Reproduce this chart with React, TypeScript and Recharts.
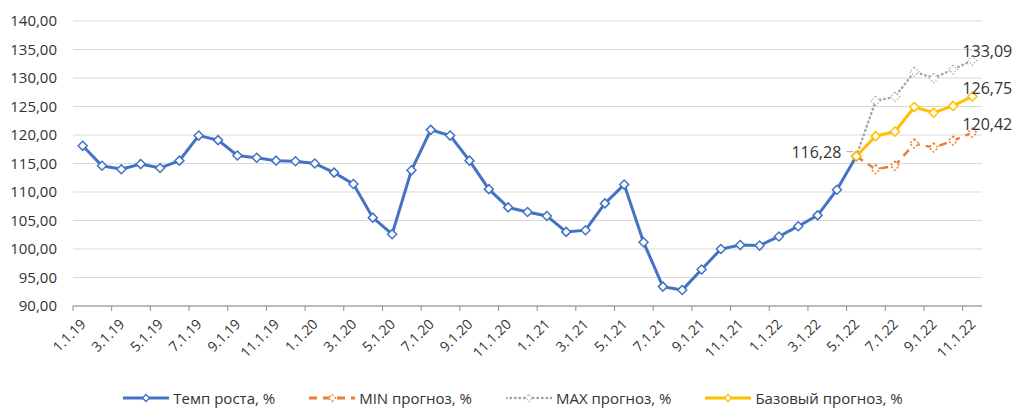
import React from 'react';
import { LineChart, Line, XAxis, YAxis, CartesianGrid, Legend, LabelList } from 'recharts';

// месяцы (подписи категорий)
const dates = [
  '1.1.19', '2.1.19', '3.1.19', '4.1.19', '5.1.19', '6.1.19', '7.1.19', '8.1.19', '9.1.19', '10.1.19', '11.1.19', '12.1.19',
  '1.1.20', '2.1.20', '3.1.20', '4.1.20', '5.1.20', '6.1.20', '7.1.20', '8.1.20', '9.1.20', '10.1.20', '11.1.20', '12.1.20',
  '1.1.21', '2.1.21', '3.1.21', '4.1.21', '5.1.21', '6.1.21', '7.1.21', '8.1.21', '9.1.21', '10.1.21', '11.1.21', '12.1.21',
  '1.1.22', '2.1.22', '3.1.22', '4.1.22', '5.1.22', '6.1.22', '7.1.22', '8.1.22', '9.1.22', '10.1.22', '11.1.22',
];

// Темп роста, % (факт, 1.1.19 – 5.1.22)
const growth = [
  118.1, 114.6, 114.0, 114.9, 114.2, 115.5, 119.9, 119.1, 116.4, 116.0, 115.5, 115.4,
  115.0, 113.4, 111.4, 105.5, 102.6, 113.8, 120.9, 119.9, 115.5, 110.5, 107.3, 106.5,
  105.8, 103.0, 103.3, 108.0, 111.3, 101.2, 93.4, 92.8, 96.4, 100.0, 100.7, 100.6,
  102.2, 104.0, 105.9, 110.4, 116.28,
];

// прогнозы с 5.1.22 по 11.1.22
const forecastStart = 40;
const minForecast = [116.28, 114.0, 114.6, 118.5, 117.8, 119.0, 120.42];
const maxForecast = [116.28, 126.0, 126.7, 131.1, 130.0, 131.5, 133.09];
const baseForecast = [116.28, 119.8, 120.6, 124.9, 123.9, 125.1, 126.75];

const yTicks = [90, 95, 100, 105, 110, 115, 120, 125, 130, 135, 140];

const data = dates.map((date, i) => ({
  date,
  growth: i < growth.length ? growth[i] : null,
  min: i >= forecastStart ? minForecast[i - forecastStart] : null,
  max: i >= forecastStart ? maxForecast[i - forecastStart] : null,
  base: i >= forecastStart ? baseForecast[i - forecastStart] : null,
}));

const W = 1014;
const H = 408;
const MARGIN = { top: 21, right: 32, left: 0, bottom: 0 };
const Y_W = 73;
const BAND = (W - MARGIN.left - MARGIN.right - Y_W) / dates.length;
const FONT = "'Open Sans', 'Liberation Sans', sans-serif";
const TEXT = '#333333';

const BLUE = '#4472C4';
const ORANGE = '#ED7D31';
const GRAY = '#A5A5A5';
const GOLD = '#FFC000';

const fmt = (v: number) => v.toFixed(2).replace('.', ',');

const diamond = (color: string, dash?: string) => (props: any) => {
  const { cx, cy, index, value } = props;
  if (cx == null || cy == null || value == null) return <g key={index} />;
  const r = 4.5;
  return (
    <polygon
      key={index}
      points={`${cx},${cy - r} ${cx + r},${cy} ${cx},${cy + r} ${cx - r},${cy}`}
      fill="#fff"
      stroke={color}
      strokeWidth={1.5}
      strokeDasharray={dash}
    />
  );
};

const XTick = (props: any) => {
  const { x, y, payload } = props;
  return (
    <g>
      <line x1={x - BAND / 2} x2={x - BAND / 2} y1={y - 8} y2={y - 3} stroke="#8c8c8c" />
      <text
        x={x + 4}
        y={y + 11}
        textAnchor="end"
        transform={`rotate(-45 ${x + 4} ${y + 11})`}
        fontSize={14}
        fontFamily={FONT}
        fill={TEXT}
      >
        {payload.value}
      </text>
    </g>
  );
};

const endLabel = (last: number) => (props: any) => {
  const { x, y, value, index } = props;
  if (value == null || index !== last) return null;
  return (
    <text x={x + 15} y={y - 9} textAnchor="middle" dominantBaseline="central" fontSize={16} fontFamily={FONT} fill={TEXT}>
      {fmt(value)}
    </text>
  );
};

const baseLabel = (props: any) => {
  const { x, y, value, index } = props;
  if (value == null) return null;
  if (index === forecastStart) {
    return (
      <g>
        <line x1={x - 10} x2={x - 3} y1={y - 4.5} y2={y - 4.5} stroke="#a6a6a6" />
        <text x={x - 15} y={y - 4} textAnchor="end" dominantBaseline="central" fontSize={16} fontFamily={FONT} fill={TEXT}>
          {fmt(value)}
        </text>
      </g>
    );
  }
  return endLabel(dates.length - 1)(props);
};

const legendItems = [
  { name: 'Темп роста, %', color: BLUE, dash: undefined, markDash: undefined, cap: 'butt' },
  { name: 'MIN прогноз, %', color: ORANGE, dash: '8 6', markDash: '2 2', cap: 'butt' },
  { name: 'MAX прогноз, %', color: GRAY, dash: '0.5 4', markDash: '1 2', cap: 'round' },
  { name: 'Базовый прогноз, %', color: GOLD, dash: undefined, markDash: undefined, cap: 'butt' },
];

const LegendBox = () => (
  <div style={{ display: 'flex', justifyContent: 'center', gap: 34, height: 22, paddingTop: 5, paddingLeft: 12, boxSizing: 'border-box' }}>
    {legendItems.map((it) => (
      <div key={it.name} style={{ display: 'flex', alignItems: 'center', gap: 4, height: 14 }}>
        <svg width={46} height={12}>
          <line x1={0} x2={46} y1={6} y2={6} stroke={it.color} strokeWidth={it.cap === 'round' ? 2.5 : 3}
            strokeDasharray={it.dash} strokeLinecap={it.cap as any} />
          <polygon points="23,2.5 26.5,6 23,9.5 19.5,6" fill="#fff" stroke={it.color} strokeWidth={1.3} strokeDasharray={it.markDash} />
        </svg>
        <span style={{ fontFamily: FONT, fontSize: 15, color: TEXT, lineHeight: '14px' }}>{it.name}</span>
      </div>
    ))}
  </div>
);

export default function App() {
  return (
    <div style={{ position: 'absolute', left: 0, top: 0, background: '#fff' }}>
      <LineChart width={W} height={H} data={data} margin={MARGIN}>
        <CartesianGrid vertical={false} stroke="#d9d9d9" />
        <XAxis
          dataKey="date"
          interval={1}
          padding={{ left: BAND / 2, right: BAND / 2 }}
          height={80}
          tick={<XTick />}
          tickLine={false}
          axisLine={{ stroke: '#8c8c8c' }}
        />
        <YAxis
          domain={[90, 140]}
          ticks={yTicks}
          width={Y_W}
          axisLine={false}
          tickLine={false}
          tickFormatter={fmt}
          tick={{ fontSize: 15, fontFamily: FONT, fill: TEXT }}
          tickMargin={10}
        />
        <Legend verticalAlign="bottom" content={<LegendBox />} wrapperStyle={{ left: 0, width: W }} />
        <Line dataKey="growth" name="Темп роста, %" stroke={BLUE} strokeWidth={3} dot={diamond(BLUE)} activeDot={false} isAnimationActive={false} />
        <Line dataKey="min" name="MIN прогноз, %" stroke={ORANGE} strokeWidth={2.5} strokeDasharray="8 6" dot={diamond(ORANGE, '2 2')} activeDot={false} isAnimationActive={false}>
          <LabelList dataKey="min" content={endLabel(dates.length - 1)} />
        </Line>
        <Line dataKey="max" name="MAX прогноз, %" stroke={GRAY} strokeWidth={2.5} strokeDasharray="0.5 4" strokeLinecap="round" dot={diamond(GRAY, '1 2')} activeDot={false} isAnimationActive={false}>
          <LabelList dataKey="max" content={endLabel(dates.length - 1)} />
        </Line>
        <Line dataKey="base" name="Базовый прогноз, %" stroke={GOLD} strokeWidth={3} dot={diamond(GOLD)} activeDot={false} isAnimationActive={false}>
          <LabelList dataKey="base" content={baseLabel} />
        </Line>
      </LineChart>
    </div>
  );
}
